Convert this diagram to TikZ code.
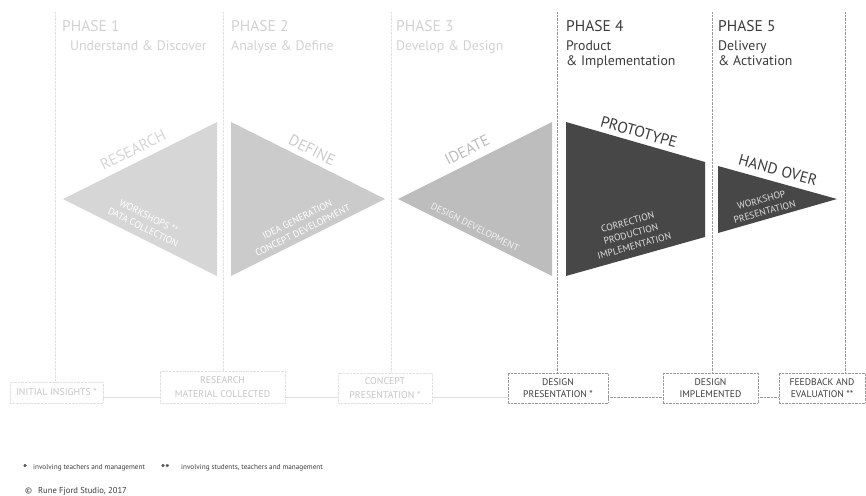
\documentclass[tikz,border=0pt]{standalone}
\usepackage{fontspec}
\setmainfont{PT Sans}
\usetikzlibrary{positioning}
\definecolor{paletext}{HTML}{D2D2D2}
\definecolor{boxtext}{HTML}{C6C6C6}
\definecolor{darktext}{HTML}{3C3C3C}
\definecolor{shaperesearch}{HTML}{D6D6D6}
\definecolor{shapedefine}{HTML}{CBCBCB}
\definecolor{shapeideate}{HTML}{BDBDBD}
\definecolor{shapedark}{HTML}{474747}
\definecolor{paleline}{HTML}{E0E0E0}
\definecolor{darkline}{HTML}{9A9A9A}
\tikzset{every node/.style={inner sep=0pt, align=center}}
\tikzset{phase/.style={anchor=base west, font=\fontsize{15.5}{18}\selectfont}}
\tikzset{title/.style={anchor=base west, align=left, font=\fontsize{13.8}{15.5}\selectfont}}
\tikzset{biglabel/.style={font=\fontsize{15.5}{18}\selectfont}}
\tikzset{inner/.style={font=\fontsize{9.6}{12.3}\selectfont}}
\tikzset{lightbox/.style={draw=paleline, densely dotted, text=boxtext, font=\fontsize{9.8}{13.5}\selectfont}}
\tikzset{darkbox/.style={draw=darkline, densely dotted, text=darktext, font=\fontsize{9.6}{12.3}\selectfont}}
\tikzset{note/.style={anchor=base west, text=darktext, font=\fontsize{7.2}{9}\selectfont}}
\tikzset{star/.style={anchor=base west, text=darktext, font=\fontsize{11}{12}\selectfont\bfseries}}

\begin{document}
\begin{tikzpicture}[x=1pt, y=-1pt]
  \useasboundingbox[fill=white] (0,0) rectangle (866,495);

  \node (ph1) [phase, text=paletext] at (62,32) {PHASE 1};
  \node (ti1) [title, text=paletext] at (70,50) {Understand \& Discover};
  \node (ph2) [phase, text=paletext] at (231,32) {PHASE 2};
  \node (ti2) [title, text=paletext] at (231,50) {Analyse \& Define};
  \node (ph3) [phase, text=paletext] at (396,32) {PHASE 3};
  \node (ti3) [title, text=paletext] at (396,50) {Develop \& Design};
  \node (ph4) [phase, text=darktext] at (566,32) {PHASE 4};
  \node (ti4) [title, text=darktext] at (566,65.5) {Product\\\& Implementation};
  \node (ph5) [phase, text=darktext] at (718,32) {PHASE 5};
  \node (ti5) [title, text=darktext] at (718,65.5) {Delivery\\\& Activation};

  \fill[shaperesearch] (63,199) -- (217,122) -- (217,276) -- cycle;
  \fill[shapedefine] (231,122) -- (385,199) -- (231,276) -- cycle;
  \fill[shapeideate] (398,199) -- (552,122) -- (552,276) -- cycle;
  \fill[shapedark] (566,122) -- (705,162) -- (705,237) -- (566,276) -- cycle;
  \fill[shapedark] (718,166) -- (837,199) -- (718,233) -- cycle;

  \node (research) [biglabel, text=shaperesearch, rotate=26.6] at (133,150) {RESEARCH};
  \node (workshops) [inner, text=white, rotate=-26.6] at (146,222) {WORKSHOPS **\\DATA COLLECTION};
  \node (define) [biglabel, text=shapedefine, rotate=-26.6] at (312,150) {DEFINE};
  \node (ideas) [inner, text=white, rotate=26.6] at (300,225) {IDEA GENERATION\\CONCEPT DEVELOPMENT};
  \node (ideate) [biglabel, text=shapeideate, rotate=26.6] at (467,150) {IDEATE};
  \node (designdev) [inner, text=white!95!black, rotate=-26.6] at (475,227) {DESIGN DEVELOPMENT};
  \node (prototype) [biglabel, text=darktext, rotate=-16] at (639,132) {PROTOTYPE};
  \node (production) [inner, text=white!87!black, rotate=15.7] at (631,234) {CORRECTION\\PRODUCTION\\IMPLEMENTATION};
  \node (handover) [biglabel, text=darktext, rotate=-15.5] at (778,170) {HAND OVER};
  \node (workshop) [inner, text=white!87!black, rotate=15.5] at (763,206) {WORKSHOP\\PRESENTATION};

  \node (insights) [lightbox, minimum width=93, minimum height=21] at (56.5,392.5) {INITIAL INSIGHTS *};
  \node (material) [lightbox, minimum width=125, minimum height=32] at (222.5,387) {RESEARCH\\MATERIAL COLLECTED};
  \node (concept) [lightbox, minimum width=94, minimum height=30] at (385,388) {CONCEPT\\PRESENTATION *};
  \node (designpres) [darkbox, minimum width=100, minimum height=30] at (558,388) {DESIGN\\PRESENTATION *};
  \node (implemented) [darkbox, minimum width=95, minimum height=30] at (710.5,388) {DESIGN\\IMPLEMENTED};
  \node (feedback) [darkbox, minimum width=86, minimum height=30] at (822,388) {FEEDBACK AND\\EVALUATION **};

  \coordinate (v1) at (55,12);
  \coordinate (v2) at (223,12);
  \coordinate (v3) at (391,12);
  \coordinate (v4) at (557,12);
  \coordinate (v5) at (712,12);
  \coordinate (v6) at (845,12);

  \draw[paleline, densely dotted] (v1) -- (v1 |- insights.north);
  \draw[paleline, densely dotted] (v2) -- (v2 |- material.north);
  \draw[paleline, densely dotted] (v3) -- (v3 |- concept.north);
  \draw[darkline, densely dotted] (v4) -- (v4 |- designpres.north);
  \draw[darkline, densely dotted] (v5) -- (v5 |- implemented.north);
  \draw[darkline, densely dotted] (v6) -- (v6 |- feedback.north);

  \draw[paleline] ([yshift=6pt]insights.south east) -- ([yshift=6pt]material.south west);
  \draw[paleline] ([yshift=6pt]material.south east) -- ([yshift=6pt]concept.south west);
  \draw[paleline] ([yshift=6pt]concept.south east) -- ([yshift=6pt]designpres.south west);
  \draw[darkline, densely dotted] ([yshift=6pt]designpres.south east) -- ([yshift=6pt]implemented.south west);
  \draw[darkline, densely dotted] ([yshift=6pt]implemented.south east) -- ([yshift=6pt]feedback.south west);

  \node (star1) [star] at (23,472) {*};
  \node (note1) [note] at (33,469) {involving teachers and management};
  \node (star2) [star] at (161,472) {**};
  \node (note2) [note] at (181,469) {involving students, teachers and management};
  \node (copyright) [note, font=\fontsize{8.6}{10}\selectfont] at (25,493) {©\hspace{6pt}Rune Fjord Studio, 2017};
\end{tikzpicture}
\end{document}
